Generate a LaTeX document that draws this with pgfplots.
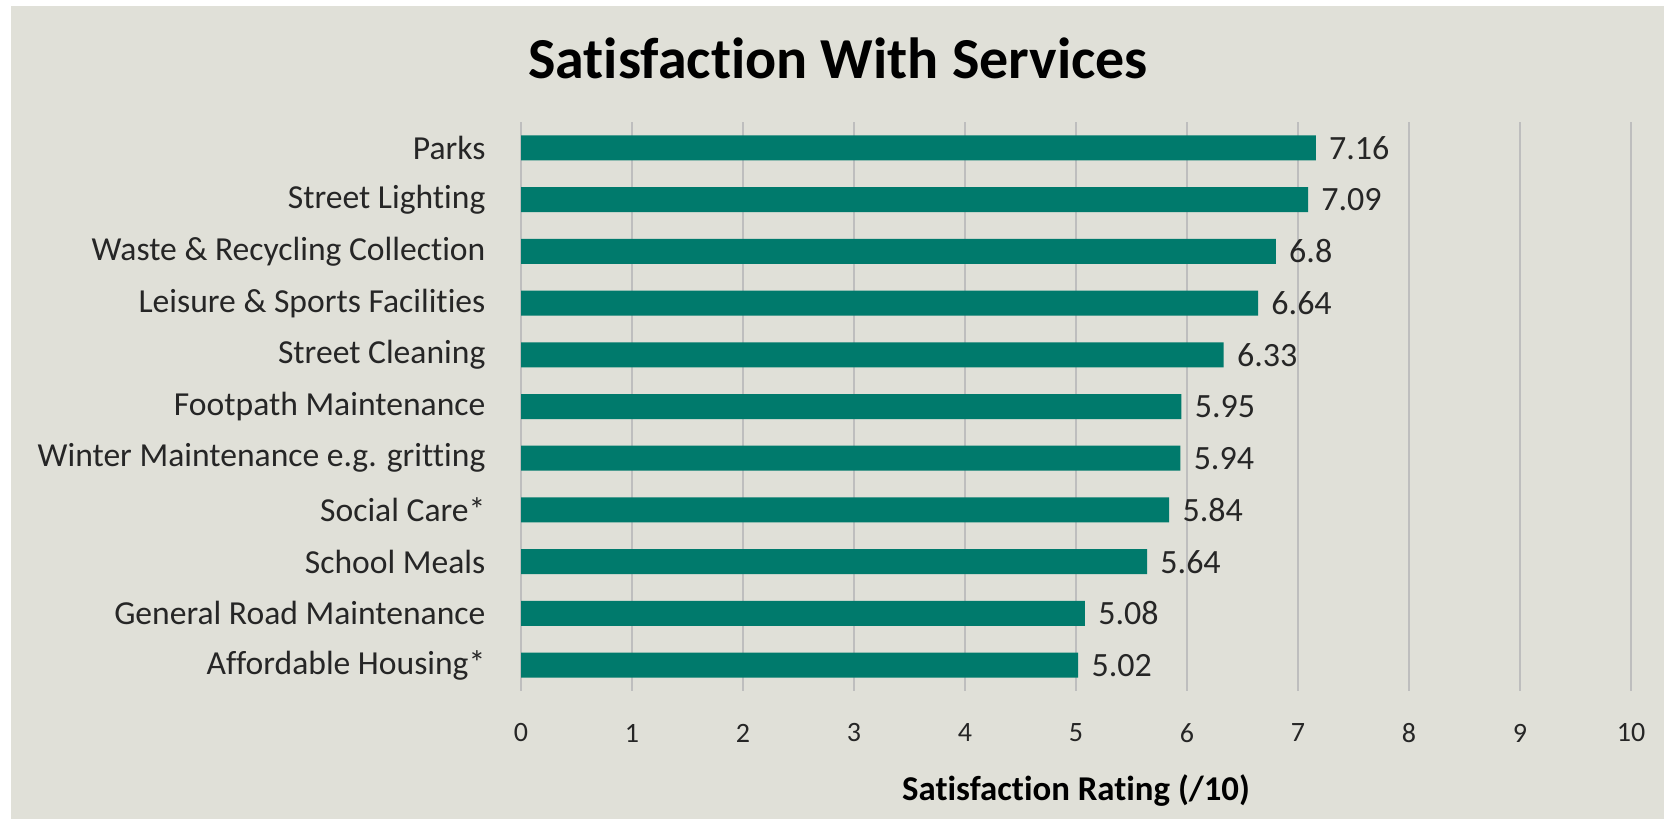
\documentclass[border=0pt]{standalone}
\usepackage{pgfplots}
\pgfplotsset{compat=1.18}
\usepackage{fontspec}
\setmainfont[Ligatures=CommonOff]{Carlito}
\definecolor{bgcol}{RGB}{224,224,216}
\definecolor{barcol}{RGB}{0,122,108}
\definecolor{gridcol}{RGB}{190,190,190}

\begin{document}
\begin{tikzpicture}
\useasboundingbox (0,0) rectangle (832pt,409.5pt);
\fill[white] (0,0) rectangle (832pt,409.5pt);
\fill[bgcol] (5.5pt,0) rectangle (832pt,406.5pt);
\node[font=\bfseries\fontsize{29}{34}\selectfont, text=black] at (419pt,380.5pt) {Satisfaction With Services};
\begin{axis}[
  at={(260.5pt,64pt)}, anchor=south west,
  width=555pt, height=284.5pt, scale only axis,
  xmin=0, xmax=10, ymin=-0.5, ymax=10.5, y dir=reverse,
  axis line style={draw=none}, tick style={draw=none},
  xmajorgrids, grid style={gridcol, line width=0.7pt},
  xtick={0,...,10}, ytick={0,...,10},
  yticklabels={Parks, Street Lighting, Waste \& Recycling Collection, Leisure \& Sports Facilities, Street Cleaning, Footpath Maintenance, Winter Maintenance e.g. gritting, Social Care*, School Meals, General Road Maintenance, Affordable Housing*},
  /pgf/number format/assume math mode=true,
  xticklabel style={font=\fontsize{14}{17}\selectfont, anchor=center, yshift=-21pt, text=black!85},
  yticklabel style={font=\fontsize{16.8}{20}\selectfont, xshift=-10pt, text=black!85},
  xlabel={Satisfaction Rating (/10)},
  xlabel style={font=\bfseries\fontsize{17.4}{20}\selectfont, at={(axis description cs:0.5,0)}, anchor=center, yshift=-50pt},
  xbar, bar width=12.5pt,
  point meta=x,
  nodes near coords,
  nodes near coords style={font=\fontsize{17}{20}\selectfont, anchor=west, inner sep=0pt, xshift=6.5pt, text=black!85, /pgf/number format/fixed, /pgf/number format/precision=2},
]
\addplot[xbar, fill=barcol, draw=none] coordinates {
  (7.16,0)
  (7.09,1)
  (6.8,2)
  (6.64,3)
  (6.33,4)
  (5.95,5)
  (5.94,6)
  (5.84,7)
  (5.64,8)
  (5.08,9)
  (5.02,10)
};
\end{axis}
\end{tikzpicture}
\end{document}
